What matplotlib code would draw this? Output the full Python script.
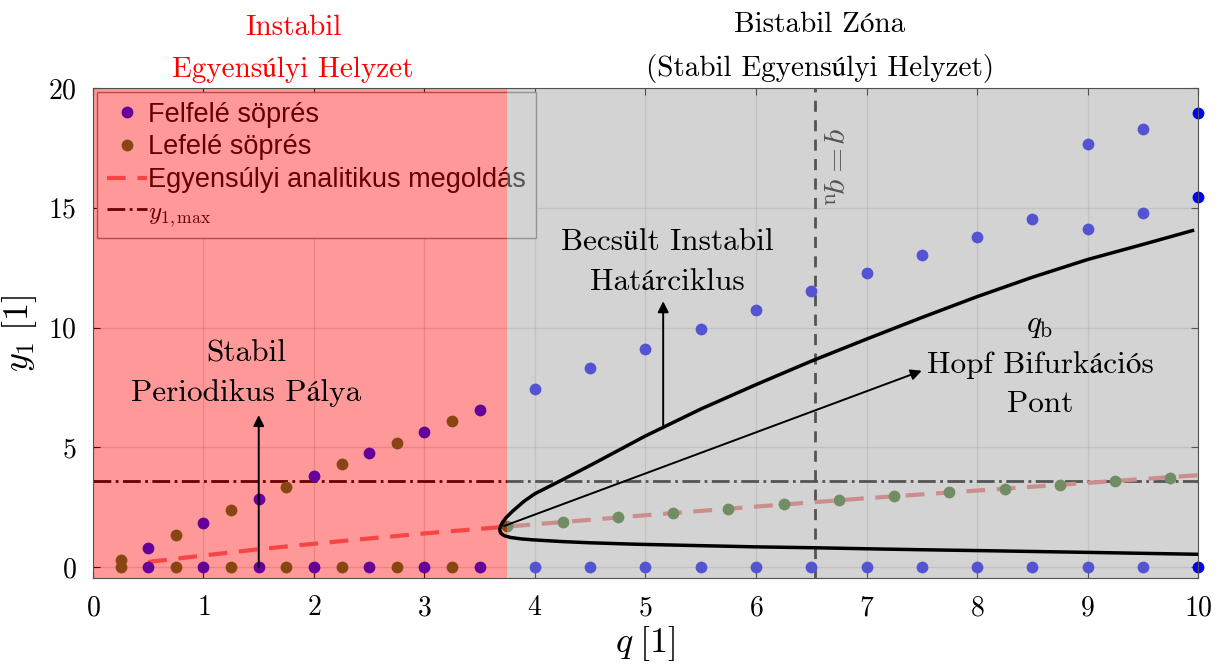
import numpy as np
import matplotlib
matplotlib.use('Agg')
from matplotlib import pyplot as plt

plt.rcParams['mathtext.fontset'] = 'cm'
plt.rcParams['font.family'] = ['cmr10', 'STIXGeneral']
plt.rcParams['axes.formatter.use_mathtext'] = True

## Felfele sopres (instabil zona)
q_fel_inst = [0.5, 1.0, 1.5, 2.0, 2.5, 3.0, 3.5]
y_fel_inst = [0.82, 1.85, 2.85, 3.81, 4.76, 5.65, 6.56]
## Lefele sopres (instabil zona)
q_le_inst = [0.25, 0.75, 1.25, 1.75, 2.25, 2.75, 3.25]
y_le_inst = [0.32, 1.34, 2.38, 3.35, 4.30, 5.20, 6.11]

## Felfele sopres (bistabil zona)
q_fel_bist = [4.0, 4.5, 5.0, 5.5, 6.0, 6.5, 7.0, 7.5, 8.0, 8.5, 9.0, 9.5, 10.0]
y_fel_bist = [7.43, 8.31, 9.10, 9.94, 10.73, 11.52, 12.28, 13.03, 13.78, 14.53, 14.11, 14.78, 15.45]
q_fel_bist2 = [9.0, 9.5, 10.0]
y_fel_bist2 = [17.66, 18.29, 18.96]
## Lefele sopres (bistabil zona)
q_le_bist = [3.75, 4.25, 4.75, 5.25, 5.75, 6.25, 6.75, 7.25, 7.75, 8.25, 8.75, 9.25, 9.75]
y_le_bist = [1.72, 1.89, 2.10, 2.27, 2.45, 2.62, 2.80, 2.96, 3.12, 3.28, 3.42, 3.59, 3.74]

## Egyensulyi analitikus megoldas
q_anal = [0.5, 1.0, 1.5, 2.0, 2.5, 3.0, 3.5, 3.75, 4.0, 5.0, 6.0, 7.0, 8.0, 9.0, 10.0]
y_anal = [0.22, 0.49, 0.75, 0.98, 1.20, 1.41, 1.60, 1.70, 1.79, 2.17, 2.53, 2.88, 3.20, 3.52, 3.84]

## Becsult instabil hatarciklus (felso ag, csucs, also ag)
q_hc = [9.95, 9.5, 9.0, 8.5, 8.0, 7.5, 7.0, 6.5, 6.0, 5.5, 5.0, 4.5, 4.24, 4.0, 3.9, 3.8, 3.74, 3.71, 3.69, 3.68,
        3.69, 3.72, 3.78, 3.88, 3.99, 4.25, 4.5, 4.91, 5.5, 6.0, 6.56, 7.0, 7.5, 8.21, 9.0, 9.5, 10.0]
y_hc = [14.05, 13.47, 12.84, 12.10, 11.29, 10.42, 9.52, 8.60, 7.62, 6.60, 5.48, 4.25, 3.63, 3.07, 2.75, 2.35,
        2.08, 1.90, 1.73, 1.57, 1.42, 1.32, 1.24, 1.18, 1.14, 1.07, 1.02, 0.96, 0.90, 0.85, 0.81, 0.77, 0.73,
        0.68, 0.62, 0.58, 0.54]

y1_max = 3.59
q_u = 6.53
q_hatar = 3.75

q_fel_all = np.array(q_fel_inst + q_fel_bist)
q_fel_up = np.array(q_fel_inst + q_fel_bist + q_fel_bist2)
y_fel_up = np.array(y_fel_inst + y_fel_bist + y_fel_bist2)

c_fel = (0.0, 0.0, 1.0)
c_le = (0.23, 0.45, 0.12)
ms = 8.5

fig = plt.figure(figsize=(12.17, 6.64), dpi=100)
ax = fig.add_axes([0.0764, 0.1295, 0.908, 0.738])

bent = q_fel_up < 10
ax.plot(q_fel_up[bent], y_fel_up[bent], 'o', color=c_fel, ms=ms, mec='none', zorder=3, label='Felfelé söprés')
ax.plot(q_fel_all[q_fel_all < 10], np.zeros(np.sum(q_fel_all < 10)), 'o', color=c_fel, ms=ms, mec='none', zorder=3)
# a szelen levo pontok nincsenek takarva
ax.plot(q_fel_up[~bent], y_fel_up[~bent], 'o', color=c_fel, ms=ms, mec='none', zorder=20, clip_on=False)
ax.plot([10.0], [0.0], 'o', color=c_fel, ms=ms, mec='none', zorder=20, clip_on=False)

ax.plot(q_le_inst + q_le_bist, y_le_inst + y_le_bist, 'o', color=c_le, ms=ms, mec='none', zorder=3, label='Lefelé söprés')
ax.plot(q_le_inst, np.zeros(len(q_le_inst)), 'o', color=c_le, ms=ms, mec='none', zorder=3)

ax.plot(q_anal, y_anal, '--', color=(0.95, 0.45, 0.45), lw=3, dashes=(4.5, 2.8), zorder=2.8,
        label='Egyensúlyi analitikus megoldás')
ax.axhline(y1_max, color='k', ls='-.', lw=2, zorder=2.7, label=r'$y_{1,\mathrm{max}}$')
ax.axvline(q_u, color='k', ls='--', lw=2, dashes=(4, 3), zorder=2.7)
ax.text(6.71, 16.75, r'$q = q_\mathrm{u}$', rotation=270, ha='center', va='center', fontsize=23, zorder=4)

# zonak
ax.axvspan(0, q_hatar, color='red', alpha=0.4, lw=0, zorder=10)
ax.axvspan(q_hatar, 10, color=(0.66, 0.66, 0.66), alpha=0.5, lw=0, zorder=10)

ax.plot(q_hc, y_hc, 'k-', lw=2.5, zorder=15, solid_joinstyle='round')

arr = dict(arrowstyle='-|>', color='k', lw=1.4, mutation_scale=16, shrinkA=0, shrinkB=0)
ax.annotate('', xy=(1.5, 6.35), xytext=(1.5, 0.0), arrowprops=arr, zorder=15)
ax.annotate('', xy=(5.16, 11.1), xytext=(5.16, 5.8), arrowprops=arr, zorder=15)
ax.annotate('', xy=(7.5, 8.2), xytext=(3.72, 1.72), arrowprops=arr, zorder=15)

ax.text(1.39, 8.1, 'Stabil\nPeriodikus Pálya', ha='center', va='center', fontsize=22.5, linespacing=1.55, zorder=16)
ax.text(5.2, 12.75, 'Becsült Instabil\nHatárciklus', ha='center', va='center', fontsize=22.5, linespacing=1.55, zorder=16)
ax.text(8.57, 8.45, '$q_\\mathrm{b}$\nHopf Bifurkációs\nPont', ha='center', va='center', fontsize=22.5,
        linespacing=1.5, zorder=16)

tr = ax.get_xaxis_transform()
ax.text(1.81, 1.08, 'Instabil\nEgyensúlyi Helyzet', transform=tr, ha='center', va='center', fontsize=21,
        color='red', linespacing=1.75)
ax.text(6.58, 1.083, 'Bistabil Zóna\n(Stabil Egyensúlyi Helyzet)', transform=tr, ha='center', va='center',
        fontsize=21, color='k', linespacing=1.75)

ax.set_xlim(0, 10)
ax.set_ylim(-0.45, 20)
ax.set_xticks(np.arange(0, 11, 1))
ax.set_yticks([0, 5, 10, 15, 20])
ax.grid(True, color=(0.15, 0.15, 0.15), alpha=0.15, lw=1)
ax.tick_params(direction='in', top=True, right=True, length=5, labelsize=20, pad=12)
for s in ax.spines.values():
    s.set_color('#505050')
    s.set_zorder(20)

ax.set_xlabel(r'$q\;[1]$', fontsize=26, labelpad=2)
ax.set_ylabel(r'$y_1\;[1]$', fontsize=26, labelpad=6)

leg = ax.legend(loc='upper left', prop={'family': 'Liberation Sans', 'size': 19.5}, fancybox=False,
                edgecolor='gray', framealpha=1, borderaxespad=0.15, handlelength=1.5, handletextpad=0.05,
                labelspacing=0.25, borderpad=0.35)
leg.get_texts()[3].set_fontsize(18)
leg.set_zorder(5)

plt.savefig('out.png', dpi=100)
plt.close()
